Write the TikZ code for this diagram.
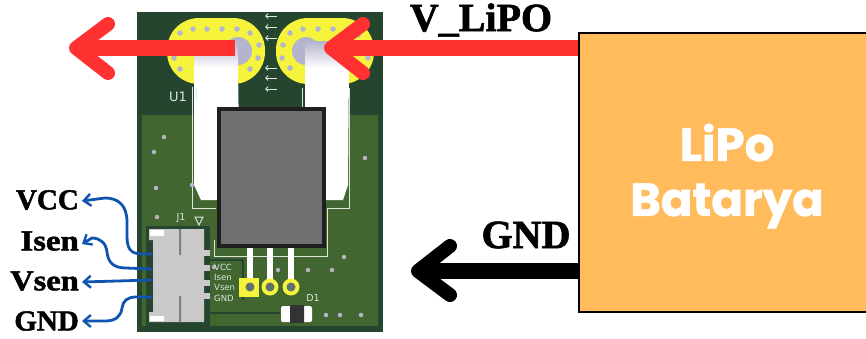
\documentclass[tikz,border=0pt]{standalone}
\usepackage{fontspec}
\setmainfont{Liberation Serif}
\newfontfamily\heavyf[FakeBold=1.6]{Liberation Serif Bold}
\newfontfamily\popfont[FakeBold=1.2]{Poppins Bold}
\newfontfamily\sansf{DejaVu Sans}
\usetikzlibrary{arrows.meta}
\definecolor{pcbdark}{HTML}{25452F}
\definecolor{pcbgreen}{HTML}{41662F}
\definecolor{padyellow}{HTML}{F5F33C}
\definecolor{via}{HTML}{B4B4CC}
\definecolor{silk}{HTML}{DDE5DD}
\definecolor{redarrow}{HTML}{FF3131}
\definecolor{batt}{HTML}{FFBB5C}
\definecolor{bluewire}{HTML}{0F55B0}
\definecolor{conn}{HTML}{C9C9C9}
\tikzset{
  viadot/.style={fill=via,draw=none,circle,minimum size=5.5pt,inner sep=0pt},
  bigarrow/.style={line width=14pt,line cap=round,line join=round},
  shaft/.style={line width=16pt},
  silkline/.style={draw=silk,line width=0.9pt},
  silktext/.style={text=silk,font=\sansf\fontsize{8.5}{8.5}\selectfont,inner sep=0pt,anchor=west},
  wire/.style={draw=bluewire,line width=2.8pt,-{Straight Barb[length=7pt,width=12pt,line width=2.4pt]}},
  sidelabel/.style={font=\heavyf\fontsize{29}{29}\selectfont,text=black,inner sep=0pt,anchor=east},
  bigfig/.style={font=\heavyf\fontsize{40}{40}\selectfont,text=black,inner sep=0pt},
  pin/.style={fill=conn,draw=none}
}
\begin{document}
\begin{tikzpicture}[x=1pt,y=-1pt]
\useasboundingbox (0,0) rectangle (866,338);
% PCB
\fill[pcbdark] (137,12) rectangle (383,332);
\fill[pcbgreen] (142,115) rectangle (378,326);
% pads
\fill[padyellow,rounded corners=32pt] (167,18) rectangle (265,84);
\fill[padyellow,rounded corners=32pt] (276,18) rectangle (374,84);
\fill[via] (238,51) circle (14pt);
\fill[via] (306,51) circle (14pt);
\foreach \p in {(180,33),(193,29),(207,29),(222,29),(237,29),(250,33),(259,45),(258,58),(250,69),(174,58),(180,69),(290,33),(283,45),(282,58),(290,68),(303,29),(318,29),(333,29),(348,29),(368,58),(358,35)}
  \node[viadot] at \p {};
% traces
\shade[top color=via,bottom color=white] (194,41) rectangle (238,68);
\fill[white] (194,68) -- (238,68) -- (239,140) -- (218,140) -- (218,200) -- (201,200) -- (194,185) -- cycle;
\shade[top color=via,bottom color=white] (305,41) rectangle (349,68);
\fill[white] (305,68) -- (349,68) -- (348,185) -- (343,200) -- (326,200) -- (326,140) -- (305,140) -- cycle;
\draw[silkline] (192,87) -- (192,208) -- (216,208);
\draw[silkline] (302,88) -- (302,107);
\draw[silkline] (349,88) -- (349,208) -- (327,208) -- (327,256) -- (214,256) -- (214,240);
\draw[silkline] (196,88) -- (196,100);
% silk arrows
\foreach \y in {16,27,38,68,78,89}
  \draw[silk,line width=0.9pt,-{Straight Barb[length=2.5pt,width=5pt]}] (277,\y) -- (265,\y);
\node[font=\sansf\fontsize{13}{13}\selectfont,text=silk,inner sep=0pt] (u) at (178,97) {U1};
% package
\fill[black!88] (217,107) rectangle (326,248);
\fill[black!56] (221,111) rectangle (322,244);
% dark traces near the connector
\draw[pcbdark,line width=1.5pt] (208,260) -- (243,260) -- (243,300);
\draw[pcbdark,line width=2pt] (206,313) -- (280,313);
% legs and pins
\foreach \x in {250,270,291}{
  \fill[white] (\x-3,248) rectangle (\x+3,280);
}
\fill[padyellow] (239,278) rectangle (259,297);
\fill[pcbdark!60!via] (250,287) circle (4.5pt);
\foreach \x in {270,291}{
  \fill[padyellow] (\x,287) circle (8.5pt);
  \fill[pcbdark!60!via] (\x,287) circle (4.5pt);
}
% vias lower
\foreach \p in {(164,137),(154,152),(156,188),(192,185),(157,217),(365,158),(344,257),(308,270),(278,270),(332,270),(326,315),(340,315),(361,315),(214,267)}
  \node[viadot,minimum size=4.5pt] at \p {};
% J1 region
\fill[pcbdark] (146,226) rectangle (210,330);
\fill[conn] (149,229) rectangle (204,240) (153,229) rectangle (204,322) (149,312) rectangle (204,322);
\fill[white] (150,230) rectangle (164,236) (150,316) rectangle (164,321);
\fill[black!50] (179,229) rectangle (181,255) (179,296) rectangle (181,322);
\foreach \y in {253,268,283,296}{
  \fill[pin] (204,\y-3) rectangle (210,\y+3);
}
\node[font=\sansf\fontsize{9.5}{9.5}\selectfont,text=silk,inner sep=0pt] (j) at (181,218) {J1};
\draw[silk,line width=1pt] (195,217) -- (203,217) -- (199,225) -- cycle;
\node[silktext] (t1) at (214,267) {VCC};
\node[silktext] (t2) at (214,277) {Isen};
\node[silktext] (t3) at (214,287) {Vsen};
\node[silktext] (t4) at (214,298) {GND};
% D1
\node[font=\sansf\fontsize{9.5}{9.5}\selectfont,text=silk,inner sep=0pt] (d1) at (313,298) {D1};
\fill[white,rounded corners=1.5pt] (281,306) rectangle (312,322);
\fill[black!80,rounded corners=1pt] (290,305) rectangle (304,323);
% battery
\coordinate (rs) at (235,48);
\coordinate (re) at (76,48);
\coordinate (le) at (331,48);
\coordinate (ke) at (418,271);
\node[draw=black,line width=2.2pt,fill=batt,minimum width=288pt,minimum height=279pt,inner sep=0pt,anchor=north west] (bat) at (578,32) {};
\node[font=\popfont\fontsize{46.5}{55}\selectfont,text=white,align=center,inner sep=0pt] (batlabel) at (727,176) {LiPo\\Batarya};
% red arrows
\draw[redarrow,shaft] (bat.west |- le) -- (le);
\draw[redarrow,bigarrow] (363,24) -- (le) -- (363,73);
\draw[redarrow,shaft] (rs) -- (re);
\draw[redarrow,bigarrow] (108,24) -- (re) -- (108,73);
% black arrow
\draw[black,shaft] (bat.west |- ke) -- (ke);
\draw[black,bigarrow] (450,246) -- (ke) -- (450,295);
% labels
\node[bigfig] (vl) at (481,20) {V\_LiPO};
\node[bigfig] (gb) at (526,235) {GND};
\node[sidelabel] (vcc) at (79,200) {VCC};
\node[sidelabel,xscale=1.13] (isen) at (79,241) {Isen};
\node[sidelabel,xscale=1.12] (vsen) at (79,281) {Vsen};
\node[sidelabel] (gnd) at (79,321) {GND};
% wires
\coordinate (a) at (152,254);
\coordinate (b) at (152,269);
\coordinate (c) at (152,280);
\coordinate (d) at (152,297);
\draw[wire] (a) -- (142,254) .. controls (130,254) and (127,248) .. (127,236) -- (127,222) .. controls (127,205) and (118,198) .. (105,198) -- ([xshift=3pt,yshift=-1pt]vcc.east);
\draw[wire] (b) -- (126,268) .. controls (113,268) and (108,262) .. (107,252) .. controls (106,243) and (100,238) .. (92,238) -- ([xshift=3pt,yshift=-3pt]isen.east);
\draw[wire] (c) -- ([xshift=3pt,yshift=-1pt]vsen.east);
\draw[wire] (d) -- (136,297) .. controls (127,297) and (123,301) .. (122,308) .. controls (121,316) and (116,321) .. (105,321) -- ([xshift=3pt]gnd.east);
\end{tikzpicture}
\end{document}
